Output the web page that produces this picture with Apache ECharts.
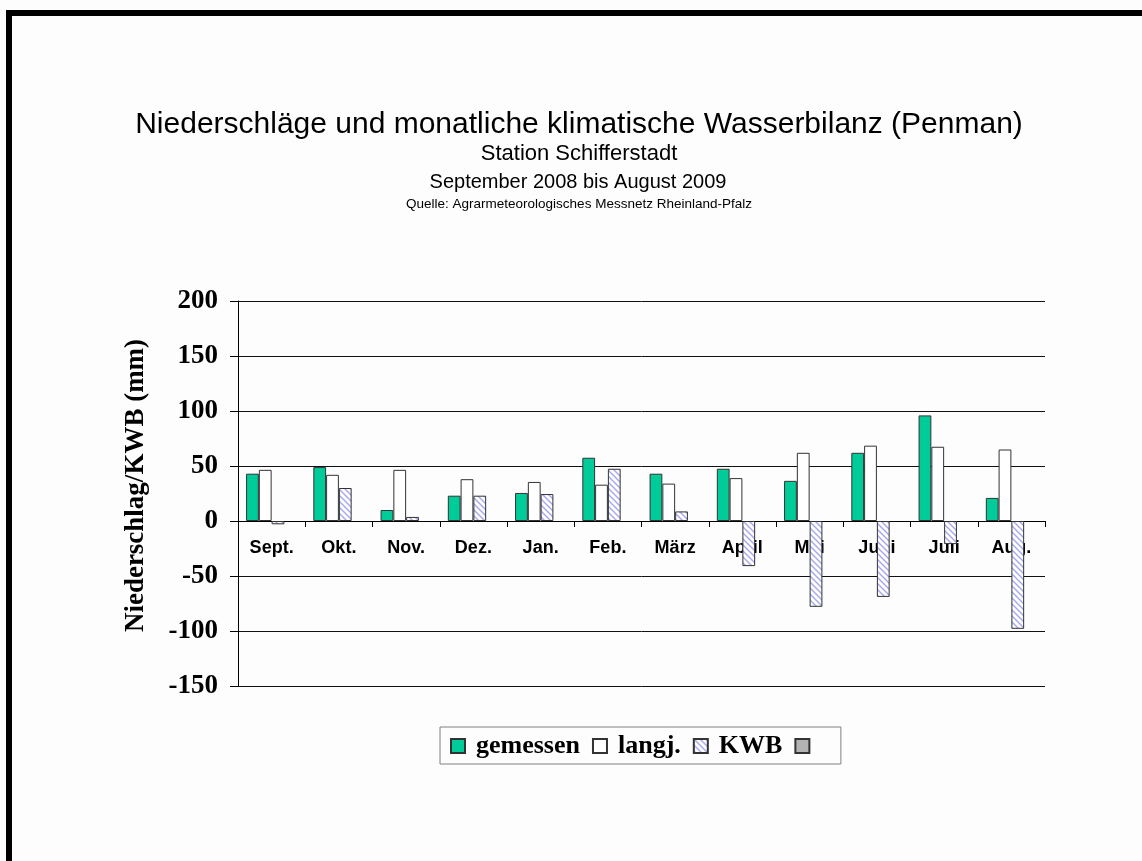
<!DOCTYPE html>
<html>
<head>
<meta charset="utf-8">
<script src="https://cdn.jsdelivr.net/npm/echarts@6/dist/echarts.min.js"></script>
<style>
html, body { margin: 0; padding: 0; background: #fdfdfd; }
#chart { width: 1142px; height: 861px; }
</style>
</head>
<body>
<div id="chart"></div>
<script>
const categories = ['Sept.', 'Okt.', 'Nov.', 'Dez.', 'Jan.', 'Feb.', 'März', 'April', 'Mai', 'Juni', 'Juli', 'Aug.'];
const gemessen = [43, 49, 10, 23, 25.5, 57.5, 43, 47.5, 36.5, 62, 96, 21];
const langj = [46.5, 42, 46.5, 38, 35.5, 33, 34, 39, 62, 68.5, 67.5, 65];
const kwb = [-3, 30, 3.7, 23, 24.5, 47.5, 8.7, -41, -78, -69, -21, -98];
const leer = [];
const yTicks = { min: -150, max: 200, step: 50 };

// hatch pattern for KWB
const hatch = document.createElement('canvas');
hatch.width = 6;
hatch.height = 6;
const hc = hatch.getContext('2d');
hc.fillStyle = '#ffffff';
hc.fillRect(0, 0, 6, 6);
hc.strokeStyle = '#a9a9f0';
hc.lineWidth = 1.5;
hc.beginPath();
hc.moveTo(-1, -1); hc.lineTo(7, 7);
hc.moveTo(-1, 5); hc.lineTo(1, 7);
hc.moveTo(5, -1); hc.lineTo(7, 1);
hc.stroke();

const chart = echarts.init(document.getElementById('chart'));

const serif = "'Liberation Serif', 'Times New Roman', serif";
const sans = "'Liberation Sans', Arial, sans-serif";

const barBorder = { borderColor: '#333', borderWidth: 1 };

// grid geometry: zero line sits 165px above the bottom (-150) line
const gridTop = 301, gridBottom = 175;

chart.setOption({
    backgroundColor: '#fdfdfd',
    animation: false,
    graphic: [
        { type: 'rect', shape: { x: 6, y: 10, width: 1136, height: 6 }, style: { fill: '#000' } },
        { type: 'rect', shape: { x: 6, y: 10, width: 6, height: 851 }, style: { fill: '#000' } },
        { type: 'text', x: 579, y: 125, style: { text: 'Niederschläge und monatliche klimatische Wasserbilanz (Penman)', font: '30px ' + sans, fill: '#000', align: 'center', verticalAlign: 'middle' } },
        { type: 'text', x: 579, y: 154, style: { text: 'Station Schifferstadt', font: '22px ' + sans, fill: '#000', align: 'center', verticalAlign: 'middle' } },
        { type: 'text', x: 578, y: 182, style: { text: 'September 2008 bis August 2009', font: '20px ' + sans, fill: '#000', align: 'center', verticalAlign: 'middle' } },
        { type: 'text', x: 579, y: 204, style: { text: 'Quelle: Agrarmeteorologisches Messnetz Rheinland-Pfalz', font: '13.5px ' + sans, fill: '#000', align: 'center', verticalAlign: 'middle' } }
    ],
    grid: {
        left: 238,
        right: 97,
        top: gridTop,
        bottom: gridBottom
    },
    legend: {
        left: 440,
        top: 727,
        padding: [6, 14, 5, 10],
        itemWidth: 14,
        itemHeight: 14,
        itemGap: 12,
        icon: 'rect',
        borderColor: '#808080',
        borderWidth: 1,
        textStyle: { fontFamily: serif, fontWeight: 'bold', fontSize: 26, color: '#000', padding: [0, 0, 0, 6] },
        data: ['gemessen', 'langj.', 'KWB', ' ']
    },
    xAxis: {
        type: 'category',
        data: categories,
        offset: -165,
        axisLine: { onZero: false, lineStyle: { color: '#000', width: 1 } },
        axisTick: { show: true, length: 6, lineStyle: { color: '#000' } },
        axisLabel: { margin: 18, fontFamily: sans, fontWeight: 'bold', fontSize: 18, color: '#000' },
        splitLine: { show: false }
    },
    yAxis: {
        type: 'value',
        min: yTicks.min,
        max: yTicks.max,
        interval: yTicks.step,
        name: 'Niederschlag/KWB (mm)',
        nameLocation: 'middle',
        nameGap: 88,
        nameTextStyle: { fontFamily: serif, fontWeight: 'bold', fontSize: 27, color: '#000', padding: [0, 0, 0, 16] },
        axisLine: { show: true, lineStyle: { color: '#000', width: 1 } },
        axisTick: { show: true, length: 8, lineStyle: { color: '#000' } },
        axisLabel: { margin: 20, fontFamily: serif, fontWeight: 'bold', fontSize: 27, color: '#000' },
        splitLine: { show: true, lineStyle: { color: '#111', width: 1 } }
    },
    series: [
        {
            name: 'gemessen',
            type: 'bar',
            data: gemessen,
            barGap: '0%',
            barCategoryGap: '24%',
            itemStyle: Object.assign({ color: '#00cc99' }, barBorder)
        },
        {
            name: 'langj.',
            type: 'bar',
            data: langj,
            itemStyle: Object.assign({ color: '#ffffff' }, barBorder)
        },
        {
            name: 'KWB',
            type: 'bar',
            data: kwb,
            itemStyle: Object.assign({ color: { image: hatch, repeat: 'repeat' } }, barBorder)
        },
        {
            name: ' ',
            type: 'bar',
            data: leer,
            itemStyle: Object.assign({ color: '#b3b3b3' }, barBorder)
        }
    ]
});
</script>
</body>
</html>
